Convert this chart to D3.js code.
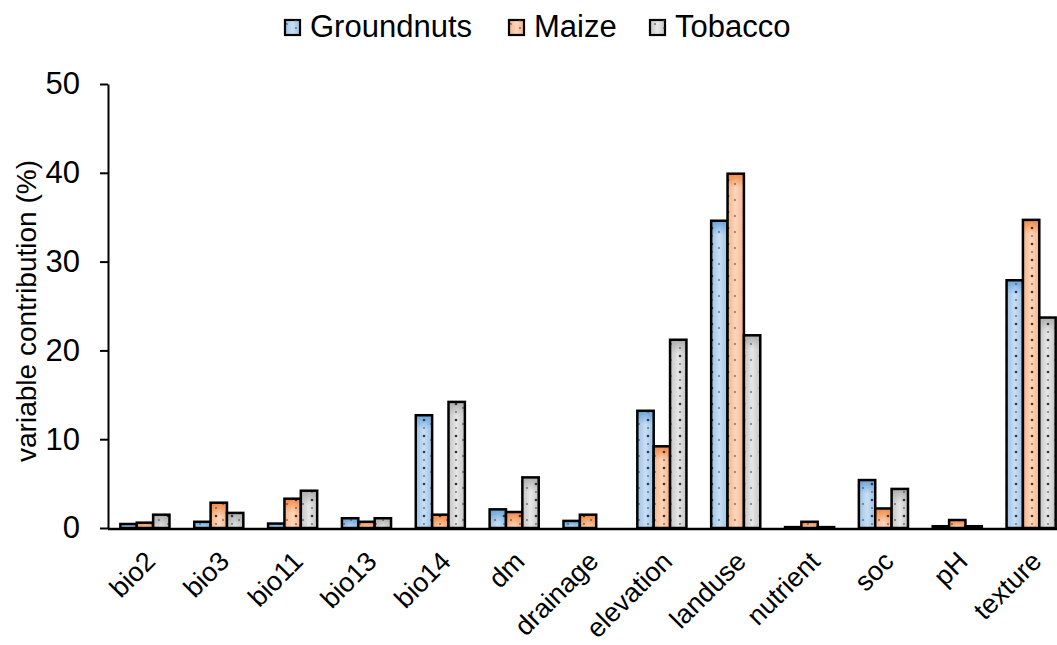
<!DOCTYPE html>
<html><head><meta charset="utf-8">
<script src="https://cdn.jsdelivr.net/npm/d3@7"></script>
<style>body{margin:0;background:#fff}svg{display:block}text{font-family:"Liberation Sans",Arial,sans-serif;fill:#000}</style>
</head><body><svg id="c" width="1057" height="645"></svg>
<script>
const categories = ["bio2","bio3","bio11","bio13","bio14","dm","drainage","elevation","landuse","nutrient","soc","pH","texture"];
const seriesNames = ["Groundnuts","Maize","Tobacco"];
const groundnuts = [0.45,0.7,0.5,1.1,12.7,2.1,0.8,13.2,34.6,0.1,5.4,0.2,27.9];
const maize      = [0.6,2.85,3.3,0.7,1.5,1.8,1.5,9.2,39.9,0.7,2.2,0.9,34.7];
const tobacco    = [1.5,1.7,4.2,1.1,14.2,5.7,0,21.2,21.7,0.1,4.4,0.2,23.7];
const yTicks = [0,10,20,30,40,50];
const series = [groundnuts, maize, tobacco];
const palette = [
  {light:"#c9def3", edge:"#9cc2e6", deep:"#5b9bd5", dot:"#1f3f60"},
  {light:"#fbd6bd", edge:"#f5b48a", deep:"#ed7d31", dot:"#5a2a0c"},
  {light:"#e6e6e6", edge:"#c4c4c4", deep:"#a5a5a5", dot:"#333"}
];

const svg = d3.select("#c");
const defs = svg.append("defs");
palette.forEach((p,i)=>{
  const g = defs.append("linearGradient").attr("id","h"+i).attr("x1","0").attr("x2","1").attr("y1","0").attr("y2","0");
  g.append("stop").attr("offset","0").attr("stop-color",p.edge);
  g.append("stop").attr("offset","0.5").attr("stop-color",p.light);
  g.append("stop").attr("offset","1").attr("stop-color",p.edge);
  const v = defs.append("linearGradient").attr("id","v"+i).attr("x1","0").attr("x2","0").attr("y1","0").attr("y2","1");
  v.append("stop").attr("offset","0").attr("stop-color",p.deep).attr("stop-opacity",0.85);
  v.append("stop").attr("offset","1").attr("stop-color",p.deep).attr("stop-opacity",0);
  const pat = defs.append("pattern").attr("id","p"+i).attr("patternUnits","userSpaceOnUse").attr("width",16).attr("height",16);
  pat.append("circle").attr("cx",8).attr("cy",4).attr("r",1.3).attr("fill",p.dot);
  pat.append("circle").attr("cx",8).attr("cy",12).attr("r",0.9).attr("fill",p.dot).attr("opacity",0.7);
  pat.append("circle").attr("cx",15).attr("cy",8).attr("r",0.9).attr("fill",p.dot).attr("opacity",0.7);
});

const left = 108, step = 73.85, y0 = 528, y50 = 84;
const x = d3.scaleBand().domain(categories).range([left, left + step*categories.length]).paddingInner(0.335).paddingOuter(0.1675);
const xs = d3.scaleBand().domain(seriesNames).range([0, x.bandwidth()]);
const y = d3.scaleLinear().domain([0,50]).range([y0, y50]);

// bars
const gBars = svg.append("g");
seriesNames.forEach((s,si)=>{
  const data = categories.map((c,ci)=>({c, v: series[si][ci]}));
  const g = gBars.append("g");
  data.forEach(d=>{
    const bx = x(d.c)+xs(s), bw = xs.bandwidth(), by = y(d.v), bh = y0 - y(d.v);
    if (d.v <= 0) return;
    g.append("rect").attr("x",bx).attr("y",by).attr("width",bw).attr("height",bh).attr("fill",`url(#h${si})`);
    g.append("rect").attr("x",bx).attr("y",by).attr("width",bw).attr("height",Math.min(bh,14)).attr("fill",`url(#v${si})`);
    g.append("rect").attr("x",bx).attr("y",by).attr("width",bw).attr("height",bh).attr("fill",`url(#p${si})`);
    g.append("rect").attr("x",bx).attr("y",by).attr("width",bw).attr("height",bh).attr("fill","none").attr("stroke","#000").attr("stroke-width",2.5);
  });
});

// y axis
const yAxis = svg.append("g").attr("transform",`translate(${left},0)`).call(d3.axisLeft(y).tickValues(yTicks).tickSize(8).tickSizeOuter(0).tickPadding(20));
yAxis.select(".domain").attr("stroke","#000").attr("stroke-width",2);
yAxis.selectAll(".tick line").attr("stroke","#000").attr("stroke-width",2);
yAxis.selectAll(".tick text").attr("font-size",31).attr("font-family","Liberation Sans, Arial, sans-serif");

// x axis line
svg.append("line").attr("x1",left).attr("x2",1057).attr("y1",y0+1).attr("y2",y0+1).attr("stroke","#000").attr("stroke-width",2.5);

// x labels
svg.append("g").selectAll("text").data(categories).join("text")
  .attr("transform",d=>`translate(${x(d)+x.bandwidth()/2+12},${563}) rotate(-45)`)
  .attr("text-anchor","end").attr("font-size",27).text(d=>d);

// y title
svg.append("text").attr("transform","translate(36,311) rotate(-90)").attr("text-anchor","middle").attr("font-size",28).text("variable contribution (%)");

// legend
const legX = [285,509,650];
const leg = svg.append("g");
seriesNames.forEach((s,i)=>{
  const gx = legX[i];
  leg.append("rect").attr("x",gx).attr("y",20).attr("width",15).attr("height",15).attr("fill",`url(#h${i})`).attr("stroke","#000").attr("stroke-width",2.2);
  leg.append("rect").attr("x",gx).attr("y",20).attr("width",15).attr("height",15).attr("fill",`url(#p${i})`);
  leg.append("text").attr("x",gx+25).attr("y",37).attr("font-size",31).text(s);
});
</script></body></html>
